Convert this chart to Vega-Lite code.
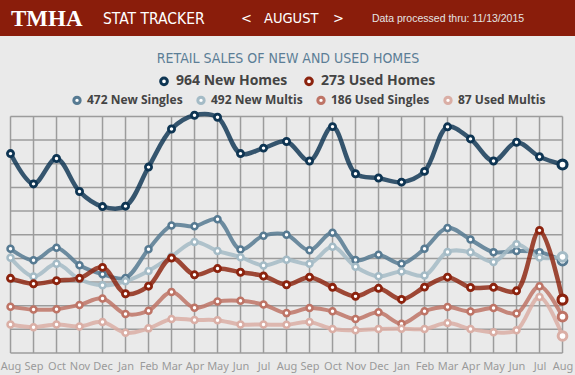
{
  "$schema": "https://vega.github.io/schema/vega-lite/v6.json",
  "width": 575,
  "height": 339,
  "autosize": {"type": "none"},
  "padding": {"left": 0, "top": 36, "right": 0, "bottom": 0},
  "background": "#8A1D0B",
  "config": {"view": {"fill": "#EAEAEA", "stroke": null}},
  "datasets": {
    "sales": [
      {"month":"Aug 2013","New Homes":1020,"Used Homes":382,"New Singles":533,"New Multis":487,"Used Singles":236,"Used Multis":146},
      {"month":"Sep 2013","New Homes":865,"Used Homes":354,"New Singles":474,"New Multis":391,"Used Singles":222,"Used Multis":132},
      {"month":"Oct 2013","New Homes":995,"Used Homes":370,"New Singles":539,"New Multis":456,"Used Singles":224,"Used Multis":146},
      {"month":"Nov 2013","New Homes":826,"Used Homes":382,"New Singles":449,"New Multis":377,"Used Singles":246,"Used Multis":136},
      {"month":"Dec 2013","New Homes":749,"Used Homes":438,"New Singles":403,"New Multis":346,"Used Singles":279,"Used Multis":159},
      {"month":"Jan 2014","New Homes":751,"Used Homes":303,"New Singles":384,"New Multis":367,"Used Singles":200,"Used Multis":103},
      {"month":"Feb 2014","New Homes":951,"Used Homes":342,"New Singles":531,"New Multis":420,"Used Singles":216,"Used Multis":126},
      {"month":"Mar 2014","New Homes":1146,"Used Homes":486,"New Singles":652,"New Multis":494,"Used Singles":312,"Used Multis":174},
      {"month":"Apr 2014","New Homes":1216,"Used Homes":400,"New Singles":648,"New Multis":568,"Used Singles":231,"Used Multis":169},
      {"month":"May 2014","New Homes":1206,"Used Homes":432,"New Singles":684,"New Multis":522,"Used Singles":264,"Used Multis":168},
      {"month":"Jun 2014","New Homes":1020,"Used Homes":413,"New Singles":530,"New Multis":490,"Used Singles":267,"Used Multis":146},
      {"month":"Jul 2014","New Homes":1048,"Used Homes":394,"New Singles":600,"New Multis":448,"Used Singles":248,"Used Multis":146},
      {"month":"Aug 2014","New Homes":1082,"Used Homes":349,"New Singles":605,"New Multis":477,"Used Singles":204,"Used Multis":145},
      {"month":"Sep 2014","New Homes":982,"Used Homes":388,"New Singles":525,"New Multis":457,"Used Singles":230,"Used Multis":158},
      {"month":"Oct 2014","New Homes":1158,"Used Homes":336,"New Singles":615,"New Multis":543,"Used Singles":213,"Used Multis":123},
      {"month":"Nov 2014","New Homes":917,"Used Homes":290,"New Singles":476,"New Multis":441,"Used Singles":174,"Used Multis":116},
      {"month":"Dec 2014","New Homes":895,"Used Homes":331,"New Singles":503,"New Multis":392,"Used Singles":208,"Used Multis":123},
      {"month":"Jan 2015","New Homes":874,"Used Homes":274,"New Singles":457,"New Multis":417,"Used Singles":150,"Used Multis":124},
      {"month":"Feb 2015","New Homes":929,"Used Homes":337,"New Singles":533,"New Multis":396,"Used Singles":214,"Used Multis":123},
      {"month":"Mar 2015","New Homes":1157,"Used Homes":388,"New Singles":640,"New Multis":517,"Used Singles":235,"Used Multis":153},
      {"month":"Apr 2015","New Homes":1095,"Used Homes":335,"New Singles":580,"New Multis":515,"Used Singles":212,"Used Multis":123},
      {"month":"May 2015","New Homes":982,"Used Homes":336,"New Singles":516,"New Multis":466,"Used Singles":230,"Used Multis":106},
      {"month":"Jun 2015","New Homes":1078,"Used Homes":318,"New Singles":522,"New Multis":556,"Used Singles":202,"Used Multis":116},
      {"month":"Jul 2015","New Homes":1004,"Used Homes":627,"New Singles":516,"New Multis":488,"Used Singles":341,"Used Multis":286},
      {"month":"Aug 2015","New Homes":964,"Used Homes":273,"New Singles":472,"New Multis":492,"Used Singles":186,"Used Multis":87}
    ],
    "grid": [{"g":0},{"g":121},{"g":242},{"g":363},{"g":484},{"g":605},{"g":726},{"g":847},{"g":968},{"g":1089},{"g":1210}]
  },
  "data": {"name": "sales"},
  "resolve": {"axis": {"x": "independent"}},
  "layer": [
    {
      "mark": {"type": "rule", "color": "#9C9C9C", "strokeWidth": 1.5},
      "encoding": {
        "x": {
          "field": "month", "type": "ordinal",
          "scale": {"type": "point", "padding": 0.5, "align": 0.457,
            "domain": ["Aug 2013","Sep 2013","Oct 2013","Nov 2013","Dec 2013","Jan 2014","Feb 2014","Mar 2014","Apr 2014","May 2014","Jun 2014","Jul 2014","Aug 2014","Sep 2014","Oct 2014","Nov 2014","Dec 2014","Jan 2015","Feb 2015","Mar 2015","Apr 2015","May 2015","Jun 2015","Jul 2015","Aug 2015"]},
          "axis": {
            "orient": "top",
            "values": ["Aug 2013","Dec 2013","Jun 2014","Jul 2014","Oct 2014","Mar 2015"],
            "labelExpr": "datum.value == 'Aug 2013' ? 'TMHA' : datum.value == 'Dec 2013' ? 'STAT TRACKER' : datum.value == 'Jun 2014' ? '<' : datum.value == 'Jul 2014' ? 'AUGUST' : datum.value == 'Oct 2014' ? '>' : 'Data processed thru: 11/13/2015'",
            "domain": false, "ticks": false, "grid": false,
            "labelPadding": 18, "labelBaseline": "middle", "labelAngle": 0,
            "labelOverlap": false, "labelBound": false, "labelFlush": false, "labelLimit": 0,
            "labelAlign": {"condition": {"test": "datum.value == 'Mar 2015'", "value": "center"}, "value": "left"},
            "labelFont": {"condition": [{"test": "datum.value == 'Aug 2013'", "value": "Liberation Serif"}, {"test": "datum.value == 'Mar 2015'", "value": "Liberation Sans"}], "value": "DejaVu Sans Condensed, Liberation Sans Narrow, sans-serif"},
            "labelFontSize": {"condition": [{"test": "datum.value == 'Aug 2013'", "value": 23}, {"test": "datum.value == 'Mar 2015'", "value": 10.5}, {"test": "datum.value == 'Dec 2013'", "value": 15.5}], "value": 14.5},
            "labelFontWeight": {"condition": {"test": "datum.value == 'Aug 2013'", "value": "bold"}, "value": "normal"},
            "labelColor": {"condition": {"test": "datum.value == 'Mar 2015'", "value": "#E4E4E4"}, "value": "#FFFFFF"},
            "title": "RETAIL SALES OF NEW AND USED HOMES",
            "titleX": 287.5, "titleY": 22, "titleAlign": "center", "titleBaseline": "middle", "titleAngle": 0,
            "titleFont": "DejaVu Sans Condensed, Liberation Sans Narrow, sans-serif", "titleFontSize": 14, "titleFontWeight": "normal", "titleColor": "#5C7E96"
          }
        },
        "y": {"datum": 0, "type": "quantitative", "scale": {"domain": [-112.5, 1621.5], "nice": false, "zero": false}, "axis": null},
        "y2": {"datum": 1210}
      }
    },
    {
      "data": {"name": "grid"},
      "mark": {"type": "rule", "color": "#9C9C9C", "strokeWidth": 1.5},
      "encoding": {
        "y": {"field": "g", "type": "quantitative", "axis": null},
        "x": {"datum": "Aug 2013", "type": "ordinal", "axis": null},
        "x2": {"datum": "Aug 2015"}
      }
    },
    {
      "transform": [{"fold": ["New Singles", "New Multis", "Used Singles", "Used Multis"], "as": ["sub", "v"]}],
      "mark": {"type": "line", "interpolate": "catmull-rom", "strokeWidth": 4, "opacity": 0.85},
      "encoding": {
        "x": {"field": "month", "type": "ordinal", "axis": null},
        "y": {"field": "v", "type": "quantitative", "axis": null},
        "color": {
          "field": "sub", "type": "nominal",
          "scale": {"domain": ["New Singles", "New Multis", "Used Singles", "Used Multis"], "range": ["#567A92", "#A4BBC6", "#BE7466", "#DAAEA5"]},
          "legend": {
            "orient": "none", "legendX": 71, "legendY": 58, "direction": "horizontal", "title": null, "padding": 0,
            "symbolType": "circle", "symbolSize": 40, "symbolStrokeWidth": 3, "symbolFillColor": "white", "symbolOpacity": 1,
            "labelFont": "Open Sans", "labelFontWeight": "bold", "labelFontSize": 12, "labelColor": "#444444", "labelOffset": 4, "columnPadding": 8,
            "labelExpr": "datum.label == 'New Singles' ? '472 New Singles' : datum.label == 'New Multis' ? '492 New Multis' : datum.label == 'Used Singles' ? '186 Used Singles' : '87 Used Multis'"
          }
        }
      }
    },
    {
      "transform": [{"fold": ["New Homes", "Used Homes"], "as": ["main", "v"]}],
      "mark": {"type": "line", "interpolate": "catmull-rom", "strokeWidth": 4.5, "opacity": 0.82},
      "encoding": {
        "x": {
          "field": "month", "type": "ordinal",
          "axis": {"orient": "bottom", "offset": -22, "domain": false, "ticks": false, "grid": false, "labelPadding": 7, "labelAngle": 0,
            "labelExpr": "slice(datum.label, 0, 3)", "labelColor": "#9A9A9A", "labelFont": "Noto Sans", "labelFontSize": 11, "title": null, "labelOverlap": false}
        },
        "y": {"field": "v", "type": "quantitative", "axis": null},
        "stroke": {
          "field": "main", "type": "nominal",
          "scale": {"domain": ["New Homes", "Used Homes"], "range": ["#0E3553", "#8C230E"]},
          "legend": {
            "orient": "none", "legendX": 157, "legendY": 38, "direction": "horizontal", "title": null, "padding": 0,
            "symbolType": "circle", "symbolSize": 45, "symbolStrokeWidth": 3, "symbolFillColor": "white", "symbolOpacity": 1,
            "labelFont": "Open Sans", "labelFontWeight": "bold", "labelFontSize": 14, "labelColor": "#444444", "labelOffset": 5, "columnPadding": 11,
            "labelExpr": "datum.label == 'New Homes' ? '964 New Homes' : '273 Used Homes'"
          }
        }
      }
    },
    {
      "transform": [{"fold": ["New Singles", "New Multis", "Used Singles", "Used Multis"], "as": ["sub", "v"]}, {"filter": "datum.month != 'Aug 2015'"}],
      "mark": {"type": "point", "shape": "circle", "filled": false, "fill": "white", "fillOpacity": 1, "opacity": 1, "size": 36, "strokeWidth": 2.5},
      "encoding": {
        "x": {"field": "month", "type": "ordinal", "axis": null},
        "y": {"field": "v", "type": "quantitative", "axis": null},
        "color": {"field": "sub", "type": "nominal"}
      }
    },
    {
      "transform": [{"fold": ["New Homes", "Used Homes"], "as": ["main", "v"]}, {"filter": "datum.month != 'Aug 2015'"}],
      "mark": {"type": "point", "shape": "circle", "filled": true, "fill": "white", "fillOpacity": 1, "opacity": 1, "size": 38, "strokeWidth": 2.8},
      "encoding": {
        "x": {"field": "month", "type": "ordinal", "axis": null},
        "y": {"field": "v", "type": "quantitative", "axis": null},
        "stroke": {"field": "main", "type": "nominal"}
      }
    },
    {
      "transform": [{"fold": ["New Singles", "New Multis", "Used Singles", "Used Multis"], "as": ["sub", "v"]}, {"filter": "datum.month == 'Aug 2015'"}],
      "mark": {"type": "point", "shape": "circle", "filled": false, "fill": "white", "fillOpacity": 1, "opacity": 1, "size": 75, "strokeWidth": 3},
      "encoding": {
        "x": {"field": "month", "type": "ordinal", "axis": null},
        "y": {"field": "v", "type": "quantitative", "axis": null},
        "color": {"field": "sub", "type": "nominal"}
      }
    },
    {
      "transform": [{"fold": ["New Homes", "Used Homes"], "as": ["main", "v"]}, {"filter": "datum.month == 'Aug 2015'"}],
      "mark": {"type": "point", "shape": "circle", "filled": true, "fill": "white", "fillOpacity": 1, "opacity": 1, "size": 80, "strokeWidth": 3.2},
      "encoding": {
        "x": {"field": "month", "type": "ordinal", "axis": null},
        "y": {"field": "v", "type": "quantitative", "axis": null},
        "stroke": {"field": "main", "type": "nominal"}
      }
    }
  ]
}
